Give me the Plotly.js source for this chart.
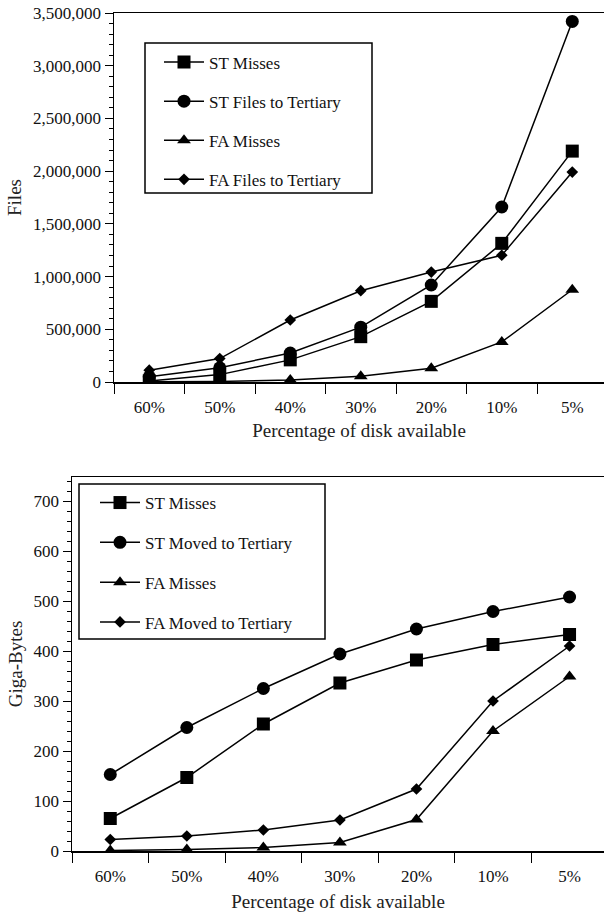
<!DOCTYPE html>
<html>
<head>
<meta charset="utf-8">
<script src="https://cdn.plot.ly/plotly-3.0.1.min.js"></script>
<style>html,body{margin:0;padding:0;background:#fff;}#chart{width:604px;height:913px;}</style>
</head>
<body>
<div id="chart"></div>
<script>
const categories = ['60%', '50%', '40%', '30%', '20%', '10%', '5%'];

// Top chart: Files
const filesSTMisses   = [10000, 70000, 210000, 430000, 765000, 1315000, 2190000];
const filesSTTertiary = [50000, 135000, 275000, 520000, 920000, 1660000, 3420000];
const filesFAMisses   = [2000, 5000, 20000, 55000, 130000, 380000, 875000];
const filesFATertiary = [112000, 222000, 588000, 866000, 1043000, 1202000, 1991000];

// Bottom chart: Giga-Bytes
const gbSTMisses = [65, 147, 254, 336, 382, 413, 433];
const gbSTMoved  = [153, 247, 325, 394, 444, 479, 508];
const gbFAMisses = [1, 3, 7, 17, 63, 240, 349];
const gbFAMoved  = [23, 30, 42, 62, 124, 300, 410];

const topNames = ['ST Misses', 'ST Files to Tertiary', 'FA Misses', 'FA Files to Tertiary'];
const botNames = ['ST Misses', 'ST Moved to Tertiary', 'FA Misses', 'FA Moved to Tertiary'];

const FONT = "'Liberation Serif', 'Times New Roman', Times, serif";
const symbols = ['square', 'circle', 'triangle-up', 'diamond'];
const sizes = [13, 13, 12, 9];

function mk(y, name, i, xa, ya, leg) {
  return {
    x: categories, y: y, name: name, type: 'scatter', mode: 'lines+markers',
    xaxis: xa, yaxis: ya, legend: leg, legendgroup: leg + i,
    line: {color: '#000', width: 1.5},
    marker: {symbol: symbols[i], size: sizes[i], color: '#000'}
  };
}

const data = [
  mk(filesSTMisses, topNames[0], 0, 'x', 'y', 'legend'),
  mk(filesSTTertiary, topNames[1], 1, 'x', 'y', 'legend'),
  mk(filesFAMisses, topNames[2], 2, 'x', 'y', 'legend'),
  mk(filesFATertiary, topNames[3], 3, 'x', 'y', 'legend'),
  mk(gbSTMisses, botNames[0], 0, 'x2', 'y2', 'legend2'),
  mk(gbSTMoved, botNames[1], 1, 'x2', 'y2', 'legend2'),
  mk(gbFAMisses, botNames[2], 2, 'x2', 'y2', 'legend2'),
  mk(gbFAMoved, botNames[3], 3, 'x2', 'y2', 'legend2')
];

const W = 604, H = 913;
function xax(left, anchor, stand) {
  return {
    domain: [left / W, 1], anchor: anchor, type: 'category', range: [-0.5, 6.45],
    showline: true, linecolor: '#000', linewidth: 1.5, mirror: true,
    ticks: 'outside', tickson: 'boundaries', ticklen: 10, tickwidth: 1, tickcolor: '#000',
    ticklabelstandoff: 9, showgrid: false, zeroline: false,
    tickfont: {family: FONT, size: 17, color: '#111'},
    title: {text: 'Percentage of disk available', font: {family: FONT, size: 19, color: '#222'}, standoff: stand}
  };
}
function yax(top, bottom, anchor, range, dtick, minor, fmt, title) {
  return {
    domain: [(H - bottom) / H, (H - top) / H], anchor: anchor, range: range,
    showline: true, linecolor: '#000', linewidth: 1.5,
    ticks: 'outside', ticklen: 8, tickwidth: 1, tickcolor: '#000', dtick: dtick, tick0: 0,
    minor: {dtick: minor, ticks: 'outside', ticklen: 4, tickwidth: 1, tickcolor: '#000', showgrid: false},
    tickformat: fmt, showgrid: false, zeroline: false,
    tickfont: {family: FONT, size: 17, color: '#111'},
    title: {text: title, font: {family: FONT, size: 19, color: '#222'}, standoff: 6}
  };
}

const legendBase = {
  bgcolor: 'rgba(0,0,0,0)', borderwidth: 0, itemwidth: 40,
  font: {family: FONT, size: 17, color: '#111'},
  traceorder: 'grouped', xanchor: 'left', yanchor: 'top'
};

function frame(x0, x1, y0, y1) {
  return {type: 'rect', xref: 'paper', yref: 'paper', x0: x0 / W, x1: x1 / W,
    y0: (H - y1) / H, y1: (H - y0) / H, line: {color: '#000', width: 1.5}, fillcolor: 'rgba(0,0,0,0)', layer: 'above'};
}

const layout = {
  width: W, height: H,
  margin: {l: 0, r: 0, t: 0, b: 0},
  paper_bgcolor: '#fff', plot_bgcolor: '#fff',
  showlegend: true,
  separators: '.,',
  xaxis: xax(114, 'y', 8),
  yaxis: yax(13, 382, 'x', [0, 3500000], 500000, 100000, ',d', 'Files'),
  xaxis2: xax(72, 'y2', 10),
  yaxis2: yax(477, 851, 'x2', [0, 748], 100, 20, 'd', 'Giga-Bytes'),
  legend: Object.assign({}, legendBase, {x: 159 / W, y: (H - 44.5) / H, tracegroupgap: 14}),
  legend2: Object.assign({}, legendBase, {x: 95 / W, y: (H - 485) / H, tracegroupgap: 14.7}),
  shapes: [frame(145, 372, 43, 193), frame(79, 325, 484, 639)]
};

Plotly.newPlot('chart', data, layout, {staticPlot: true, displayModeBar: false});
</script>
</body>
</html>
